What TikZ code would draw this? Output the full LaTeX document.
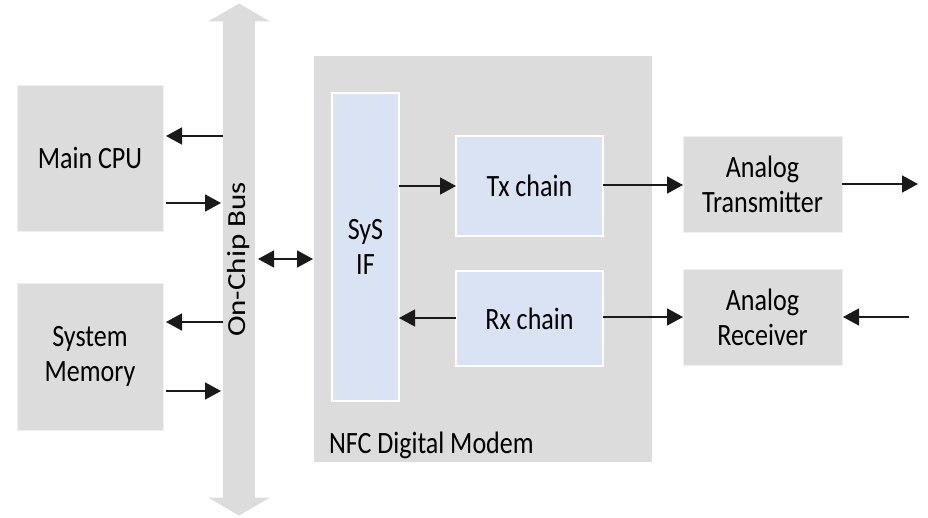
\documentclass[tikz,border=0pt]{standalone}
\usepackage{fontspec}
\setmainfont[FakeStretch=0.84]{Carlito}
\newfontfamily\busfont{Carlito}
\usetikzlibrary{arrows.meta}
\definecolor{boxgray}{HTML}{DCDCDC}
\definecolor{ifblue}{HTML}{DAE3F3}
\definecolor{wire}{HTML}{1A1A1A}

\begin{document}
\begin{tikzpicture}[x=1pt,y=-1pt,
  every node/.style={inner sep=0pt, outer sep=0pt},
  txt/.style={font=\fontsize{31}{35}\selectfont, text=black, align=center},
  graybox/.style={txt, fill=boxgray, draw=white!94!black, line width=0.6pt},
  bluebox/.style={txt, fill=ifblue, draw=white, line width=1.2pt},
  arr/.style={draw=wire, line width=1.6pt, -{Triangle[length=16pt,width=17pt]}},
  biarr/.style={draw=wire, line width=1.6pt,
    {Triangle[length=16pt,width=17pt]}-{Triangle[length=16pt,width=17pt]}},
]
\useasboundingbox (0,0) rectangle (928,518);

% host side
\node[graybox, minimum width=146pt, minimum height=146pt] (cpu) at (90,158) {Main CPU};
\node[graybox, minimum width=146pt, minimum height=147pt] (mem) at (90,356.5) {System\\Memory};

% on-chip bus: shaft with an arrow head at each end
\node[fill=boxgray, minimum width=32pt, minimum height=476pt] (bus) at (239,259.5)
  {\rotatebox{90}{\scalebox{1}[0.84]{\busfont\fontsize{31}{35}\selectfont On-Chip Bus}}};
\fill[boxgray] ([xshift=-15pt]bus.north west) -- ([yshift=18pt]bus.north)
  -- ([xshift=15pt]bus.north east) -- cycle;
\fill[boxgray] ([xshift=-15pt]bus.south west) -- ([yshift=-18pt]bus.south)
  -- ([xshift=15pt]bus.south east) -- cycle;

% NFC digital modem block
\node[fill=boxgray, minimum width=338pt, minimum height=406pt] (modem) at (483,259) {};
\node[txt, anchor=base west] (modemlbl) at (329,453) {NFC Digital Modem};
\node[bluebox, minimum width=67pt, minimum height=308pt] (sysif) at (365.5,247) {SyS\\IF};
\node[bluebox, minimum width=147pt, minimum height=100pt] (tx) at (529.5,186) {Tx chain};
\node[bluebox, minimum width=147pt, minimum height=95pt] (rx) at (529.5,318.5) {Rx chain};

% analog front end
\node[graybox, minimum width=159pt, minimum height=96pt] (atx) at (762.5,184) {Analog\\Transmitter};
\node[graybox, minimum width=159pt, minimum height=96pt] (arx) at (762.5,317) {Analog\\Receiver};
\coordinate (txout) at (918,184);
\coordinate (rxin) at (909,317);

% connections
\draw[arr, shorten >=3pt] (bus.west |- 0,136) -- (cpu.east |- 0,136);
\draw[arr, shorten <=3pt, shorten >=2pt] (cpu.east |- 0,203) -- (bus.west |- 0,203);
\draw[arr, shorten >=3pt] (bus.west |- 0,322) -- (mem.east |- 0,322);
\draw[arr, shorten <=3pt, shorten >=2pt] (mem.east |- 0,391) -- (bus.west |- 0,391);
\draw[biarr, shorten <=3pt, shorten >=1pt] (bus.east |- 0,259) -- (modem.west |- 0,259);
\draw[arr] (sysif.east |- 0,186) -- (tx.west |- 0,186);
\draw[arr] (rx.west |- 0,318) -- (sysif.east |- 0,318);
\draw[arr] (tx.east |- 0,185) -- (atx.west |- 0,185);
\draw[arr] (rx.east |- 0,317) -- (arx.west |- 0,317);
\draw[arr] (atx.east) -- (txout);
\draw[arr, shorten >=1pt] (rxin) -- (arx.east);
\end{tikzpicture}
\end{document}
